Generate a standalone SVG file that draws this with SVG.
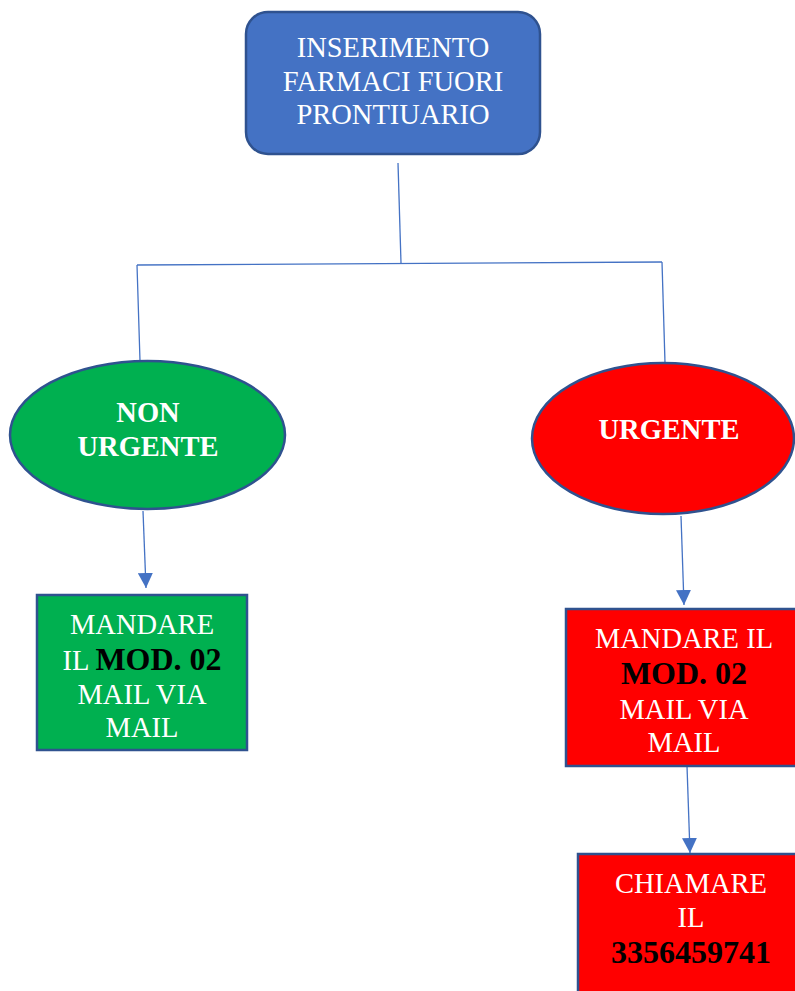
<svg xmlns="http://www.w3.org/2000/svg" width="795" height="991" viewBox="0 0 795 991">
<style>
.t{font-family:"Liberation Serif","Times New Roman",serif;font-size:28.5px;fill:#fff;text-anchor:middle}
.b{font-weight:bold}
.k{font-weight:bold;fill:#000;font-size:32px}
.c{stroke:#4472C4;stroke-width:1.3;fill:none}
.s{stroke:#2F528F;stroke-width:2.5}
</style>
<defs>
<marker id="ah" markerWidth="16" markerHeight="15" refX="15" refY="7.5" orient="auto" markerUnits="userSpaceOnUse">
<path d="M0,0 L15,7.5 L0,15 Z" fill="#4472C4"/>
</marker>
</defs>
<rect width="795" height="991" fill="#fff"/>
<g id="connectors">
<line class="c" x1="398" y1="163" x2="401" y2="263"/>
<line class="c" x1="137" y1="265" x2="662" y2="262"/>
<line class="c" x1="137" y1="265" x2="140" y2="361"/>
<line class="c" x1="662" y1="262" x2="665" y2="363"/>
<line class="c" x1="143" y1="511" x2="146" y2="588" marker-end="url(#ah)"/>
<line class="c" x1="681" y1="516" x2="684" y2="605" marker-end="url(#ah)"/>
<line class="c" x1="687" y1="766" x2="690" y2="853" marker-end="url(#ah)"/>
</g>
<g id="start">
<rect class="s" x="246" y="12" width="294" height="142" rx="22" fill="#4472C4"/>
<text class="t" x="393" y="57">INSERIMENTO</text>
<text class="t" x="393" y="91">FARMACI FUORI</text>
<text class="t" x="393" y="124">PRONTIUARIO</text>
</g>
<g id="nonurgente">
<ellipse class="s" cx="147.5" cy="435" rx="137.5" ry="74" fill="#00B050"/>
<text class="t b" x="148" y="422">NON</text>
<text class="t b" x="148" y="456">URGENTE</text>
</g>
<g id="urgente">
<ellipse class="s" cx="663" cy="438.5" rx="131" ry="75.5" fill="#FF0000"/>
<text class="t b" x="669" y="439">URGENTE</text>
</g>
<g id="mandare-green">
<rect class="s" x="37" y="595" width="210" height="155" fill="#00B050"/>
<text class="t" x="142" y="634">MANDARE</text>
<text class="t" x="142" y="670">IL <tspan class="k">MOD. 02</tspan></text>
<text class="t" x="142" y="704">MAIL VIA</text>
<text class="t" x="142" y="737">MAIL</text>
</g>
<g id="mandare-red">
<rect class="s" x="566" y="609" width="236" height="157" fill="#FF0000"/>
<text class="t" x="684" y="648">MANDARE IL</text>
<text class="t k" x="684" y="684">MOD. 02</text>
<text class="t" x="684" y="719">MAIL VIA</text>
<text class="t" x="684" y="752">MAIL</text>
</g>
<g id="chiamare">
<rect class="s" x="578" y="854" width="226" height="150" fill="#FF0000"/>
<text class="t" x="691" y="893">CHIAMARE</text>
<text class="t" x="691" y="927">IL</text>
<text class="t k" x="691" y="963">3356459741</text>
</g>
</svg>
